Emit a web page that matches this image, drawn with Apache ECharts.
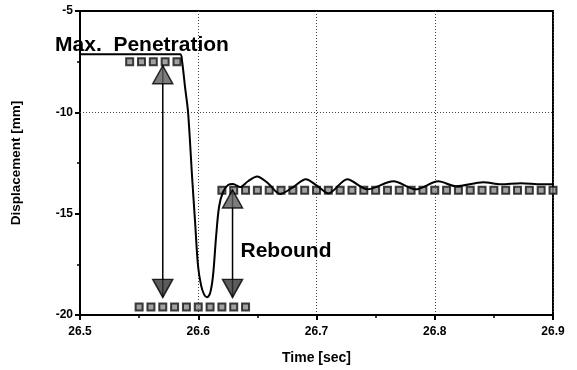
<!DOCTYPE html>
<html>
<head>
<meta charset="utf-8">
<script src="https://cdn.jsdelivr.net/npm/echarts@6/dist/echarts.min.js"></script>
<style>
  html, body { margin: 0; padding: 0; background: #fff; }
  #chart { width: 577px; height: 370px; }
</style>
</head>
<body>
<div id="chart"></div>
<script>
// Measured displacement trace
const curveTime = [26.500, 26.5846, 26.5863, 26.5888, 26.5914, 26.5948, 26.5973, 26.5998, 26.6024, 26.6049,
  26.6074, 26.6100, 26.6125, 26.6151, 26.6176, 26.6210, 26.6252, 26.6294, 26.6354, 26.6421,
  26.6497, 26.659, 26.6692, 26.680, 26.691, 26.700, 26.710, 26.726, 26.743, 26.765,
  26.784, 26.803, 26.818, 26.841, 26.856, 26.873, 26.890, 26.900];
const curveDisp = [-7.14, -7.14, -7.48, -8.74, -10.0, -13.2, -15.39, -17.57, -18.54, -18.98,
  -19.13, -18.93, -18.06, -16.12, -14.66, -13.93, -13.59, -13.54, -13.69, -13.4,
  -13.16, -13.5, -14.03, -13.7, -13.3, -13.6, -14.0, -13.3, -13.8, -13.4,
  -13.8, -13.4, -13.65, -13.45, -13.55, -13.5, -13.55, -13.55];

// Reference levels (square markers)
const topLevelTime = [26.542, 26.552, 26.562, 26.572, 26.582];
const topLevel = -7.5;
const bottomLevelTime = [26.55, 26.56, 26.57, 26.58, 26.59, 26.60, 26.61, 26.62, 26.63, 26.64];
const bottomLevel = -19.6;
const restLevelTime = [26.62, 26.63, 26.64, 26.65, 26.66, 26.67, 26.68, 26.69, 26.70, 26.71,
  26.72, 26.73, 26.74, 26.75, 26.76, 26.77, 26.78, 26.79, 26.80, 26.81,
  26.82, 26.83, 26.84, 26.85, 26.86, 26.87, 26.88, 26.89, 26.90];
const restLevel = -13.85;

// Double-headed arrows: penetration and rebound
const arrowTime = [26.570, 26.629];
const arrowTop = [-7.7, -13.83];
const arrowBottom = [-19.13, -19.13];

// Axis ticks
const xTicks = [26.5, 26.6, 26.7, 26.8, 26.9];
const yTicks = [-20, -15, -10, -5];
const yGridValue = -10;

const FONT = '"Liberation Sans", Arial, Helvetica, sans-serif';
const chart = echarts.init(document.getElementById('chart'), null, { renderer: 'canvas' });

const levelMarker = {
  type: 'scatter',
  symbol: 'rect',
  symbolSize: 7,
  itemStyle: { color: '#8a8a8a', borderColor: '#111', borderWidth: 2 },
  z: 3,
  silent: true
};

const series = [
  Object.assign({ data: topLevelTime.map(t => [t, topLevel]) }, levelMarker),
  Object.assign({ data: bottomLevelTime.map(t => [t, bottomLevel]) }, levelMarker),
  Object.assign({ data: restLevelTime.map(t => [t, restLevel]) }, levelMarker),
  {
    type: 'line',
    data: curveTime.map((t, i) => [t, curveDisp[i]]),
    smooth: 0.3,
    showSymbol: false,
    lineStyle: { color: '#000', width: 2 },
    z: 4,
    silent: true,
    markLine: {
      silent: true,
      symbol: ['none', 'none'],
      label: { show: false },
      lineStyle: { color: '#444', type: [1, 2], width: 1 },
      data: [{ yAxis: yGridValue }],
      z: 1
    }
  }
];

arrowTime.forEach((t, i) => {
  series.push({
    type: 'line',
    data: [[t, arrowTop[i]], [t, arrowBottom[i]]],
    showSymbol: false,
    lineStyle: { color: '#000', width: 1.5 },
    z: 5,
    silent: true
  });
  series.push({
    type: 'scatter',
    data: [[t, arrowTop[i]]],
    symbol: 'triangle',
    symbolSize: [20, 18],
    symbolOffset: [0, 9],
    itemStyle: { color: '#5c5c5c', borderColor: '#000', borderWidth: 1.5 },
    z: 6,
    silent: true
  });
  series.push({
    type: 'scatter',
    data: [[t, arrowBottom[i]]],
    symbol: 'triangle',
    symbolSize: [20, 18],
    symbolRotate: 180,
    symbolOffset: [0, -9],
    itemStyle: { color: '#333', borderColor: '#000', borderWidth: 1.5 },
    z: 6,
    silent: true
  });
});

chart.setOption({
  animation: false,
  backgroundColor: '#fff',
  grid: {
    left: 80, right: 24, top: 11, bottom: 49,
    show: true, borderColor: '#000', borderWidth: 2, backgroundColor: 'transparent'
  },
  xAxis: {
    type: 'value',
    min: xTicks[0],
    max: xTicks[xTicks.length - 1],
    interval: 0.1,
    name: 'Time [sec]',
    nameLocation: 'middle',
    nameGap: 36,
    nameTextStyle: { fontFamily: FONT, fontWeight: 'bold', fontSize: 14, color: '#000' },
    axisLine: { show: true, lineStyle: { color: '#000', width: 2 } },
    axisTick: { show: true, inside: false, length: 5, lineStyle: { color: '#000', width: 2 } },
    minorTick: { show: true, splitNumber: 2, length: 3, lineStyle: { color: '#000', width: 1.5 } },
    axisLabel: {
      fontFamily: FONT, fontWeight: 'bold', fontSize: 12, color: '#000', margin: 11,
      formatter: v => v.toFixed(1)
    },
    splitLine: { show: true, lineStyle: { color: '#444', type: [1, 2], width: 1 } }
  },
  yAxis: {
    type: 'value',
    min: yTicks[0],
    max: yTicks[yTicks.length - 1],
    interval: 5,
    name: 'Displacement [mm]',
    nameLocation: 'middle',
    nameGap: 57,
    nameTextStyle: { fontFamily: FONT, fontWeight: 'bold', fontSize: 13.5, color: '#000' },
    axisLine: { show: true, lineStyle: { color: '#000', width: 2 } },
    axisTick: { show: true, inside: false, length: 5, lineStyle: { color: '#000', width: 2 } },
    minorTick: { show: true, splitNumber: 2, length: 3, lineStyle: { color: '#000', width: 1.5 } },
    axisLabel: { fontFamily: FONT, fontWeight: 'bold', fontSize: 12, color: '#000', margin: 7 },
    splitLine: { show: false }
  },
  graphic: [
    {
      type: 'text', z: 10, silent: true,
      style: {
        text: 'Max.  Penetration', x: 142, y: 45,
        font: 'bold 21px ' + FONT, fill: '#000',
        textAlign: 'center', textVerticalAlign: 'middle'
      }
    },
    {
      type: 'text', z: 10, silent: true,
      style: {
        text: 'Rebound', x: 286, y: 251,
        font: 'bold 21px ' + FONT, fill: '#000',
        textAlign: 'center', textVerticalAlign: 'middle'
      }
    }
  ],
  series: series
});
</script>
</body>
</html>
